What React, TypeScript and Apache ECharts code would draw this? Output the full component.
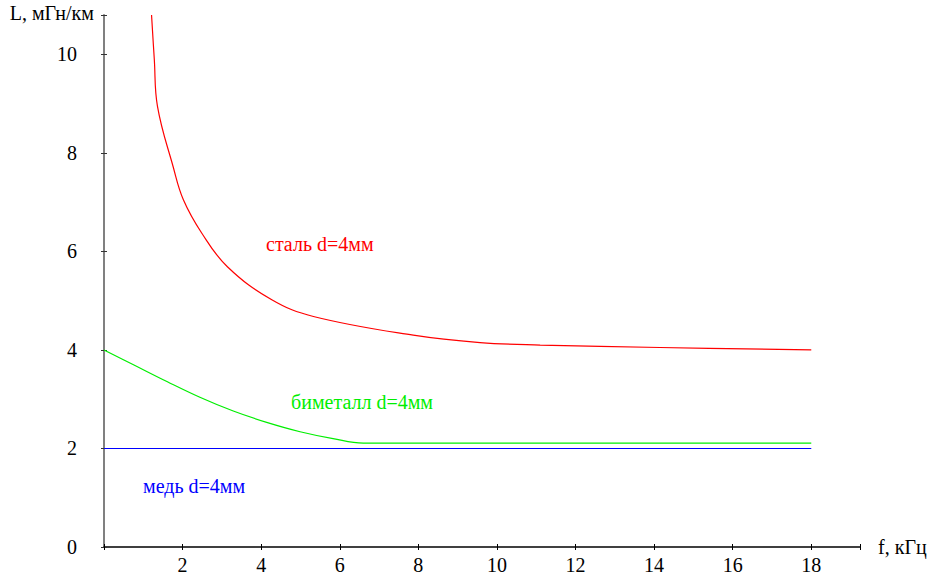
import React, { useEffect, useRef } from "react";
import * as echarts from "echarts";

const steelData: [number, number][] = [
  [1.21, 10.8], [1.28, 9.9], [1.36, 8.95], [1.76, 7.72], [2.02, 7.05], [2.49, 6.37],
  [3.14, 5.69], [4.27, 5.02], [5.33, 4.68], [7.87, 4.3],
  [9.57, 4.15], [11.1, 4.1], [14.15, 4.05], [18, 4.0],
];
const bimetalData: [number, number][] = [
  [0, 4.0], [0.75, 3.7], [1.6, 3.36], [2.44, 3.04], [3.29, 2.76], [4.14, 2.53],
  [4.99, 2.34], [5.83, 2.2], [6.6, 2.11], [18, 2.11],
];
const copperData: [number, number][] = [[0, 2.0], [18, 2.0]];

const seriesLabels = ["сталь d=4мм", "биметалл d=4мм", "медь d=4мм"];
const xName = "f, кГц";
const yName = "L, мГн/км";

const FONT = "Liberation Serif";

export default function App() {
  const ref = useRef<HTMLDivElement>(null);
  useEffect(() => {
    if (!ref.current) return;
    const chart = echarts.init(ref.current, null, { renderer: "svg" });
    const base = {
      min: 0,
      interval: 2,
    };
    chart.setOption({
      animation: false,
      backgroundColor: "#fff",
      textStyle: { fontFamily: FONT },
      grid: { left: 104, top: 15, right: 77, bottom: 31, containLabel: false },
      xAxis: [
        {
          type: "value",
          ...base,
          max: 19.24,
          position: "bottom",
          name: xName,
          nameLocation: "end",
          nameGap: 18,
          nameTextStyle: { fontFamily: FONT, fontSize: 20, color: "#000" },
          axisLine: { show: true, lineStyle: { color: "#000", width: 1.5 } },
          axisTick: { show: true, length: 3, lineStyle: { color: "#000", width: 1 } },
          axisLabel: {
            fontFamily: FONT,
            fontSize: 20,
            color: "#000",
            margin: 8,
            formatter: (v: number) => (v === 0 || v > 18 ? "" : String(v)),
          },
          splitLine: { show: false },
        },
        {
          type: "value",
          ...base,
          max: 19.24,
          position: "bottom",
          axisLine: { show: false },
          axisTick: { show: true, inside: true, length: 3, lineStyle: { color: "#000", width: 1 } },
          axisLabel: { show: false },
          splitLine: { show: false },
        },
      ],
      yAxis: [
        {
          type: "value",
          ...base,
          max: 10.8,
          position: "left",
          name: yName,
          nameLocation: "end",
          nameGap: 2,
          nameTextStyle: {
            fontFamily: FONT,
            fontSize: 20,
            color: "#000",
            align: "right",
            verticalAlign: "middle",
            padding: [0, 10, 0, 0],
          },
          axisLine: { show: true, lineStyle: { color: "#808080", width: 2 } },
          axisTick: { show: true, length: 3, lineStyle: { color: "#333", width: 1 } },
          axisLabel: {
            fontFamily: FONT,
            fontSize: 20,
            color: "#000",
            margin: 27,
            formatter: (v: number) => (v > 10 ? "" : String(v)),
          },
          splitLine: { show: false },
        },
        {
          type: "value",
          ...base,
          max: 10.8,
          position: "left",
          axisLine: { show: false },
          axisTick: { show: true, inside: true, length: 3, lineStyle: { color: "#333", width: 1 } },
          axisLabel: { show: false },
          splitLine: { show: false },
        },
      ],
      series: [
        {
          type: "line",
          name: seriesLabels[0],
          data: steelData,
          showSymbol: false,
          smooth: 0.4,
          lineStyle: { color: "#ff0000", width: 1.2 },
          z: 3,
        },
        {
          type: "line",
          name: seriesLabels[1],
          data: bimetalData,
          showSymbol: false,
          smooth: 0.4,
          lineStyle: { color: "#00ee00", width: 1.2 },
          z: 3,
        },
        {
          type: "line",
          name: seriesLabels[2],
          data: copperData,
          showSymbol: false,
          lineStyle: { color: "#0000ff", width: 1.2 },
          z: 3,
        },
      ],
      graphic: [
        {
          type: "text",
          left: 266,
          top: 234,
          style: { text: seriesLabels[0], fill: "#ff0000", fontFamily: FONT, fontSize: 20 },
        },
        {
          type: "text",
          left: 291,
          top: 392,
          style: { text: seriesLabels[1], fill: "#00ee00", fontFamily: FONT, fontSize: 20 },
        },
        {
          type: "text",
          left: 143,
          top: 476,
          style: { text: seriesLabels[2], fill: "#0000ff", fontFamily: FONT, fontSize: 20 },
        },
      ],
    });
    return () => chart.dispose();
  }, []);
  return (
    <div
      ref={ref}
      style={{ position: "absolute", left: 0, top: 0, width: 937, height: 578 }}
    />
  );
}
